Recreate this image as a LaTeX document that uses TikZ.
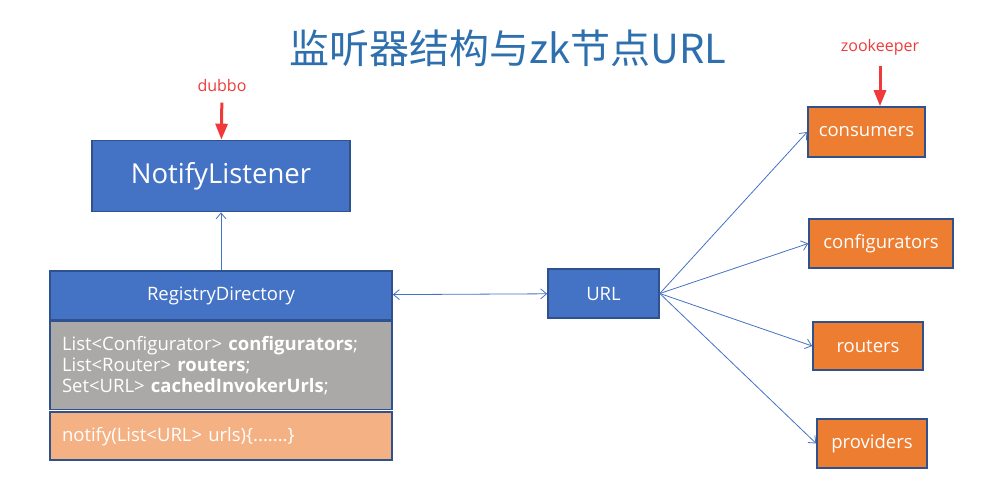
\documentclass[tikz,border=0pt]{standalone}
\usepackage{fontspec}
\setmainfont{Open Sans}
\newfontfamily\cjkfont{Noto Sans CJK SC}
\usepackage{tikz}
\usetikzlibrary{arrows.meta,positioning}

\definecolor{boxblue}{HTML}{4472C4}
\definecolor{edgeblue}{HTML}{2F528F}
\definecolor{titleblue}{HTML}{2E6FAE}
\definecolor{fieldgray}{HTML}{ABA9A8}
\definecolor{lightorange}{HTML}{F4B183}
\definecolor{zkorange}{HTML}{ED7D31}
\definecolor{tagred}{HTML}{F03A3A}

\begin{document}
\begin{tikzpicture}[
    x=1pt, y=-1pt,
    font=\fontsize{18.5}{21}\selectfont,
    node distance=0pt,
    cls/.style={draw=edgeblue, line width=1.6pt, fill=boxblue, text=white, inner sep=0pt},
    fieldbox/.style={draw=edgeblue, line width=1.6pt, fill=fieldgray, text=white, inner xsep=12pt, text width=318pt, align=left, minimum height=88pt, font=\fontsize{18.5}{21}\selectfont},
    methodbox/.style={draw=edgeblue, line width=1.6pt, fill=lightorange, text=white, inner xsep=12pt, text width=318pt, align=left, minimum height=48pt, font=\fontsize{18.5}{21}\selectfont},
    zknode/.style={draw=edgeblue, line width=1.6pt, fill=zkorange, text=white, inner sep=0pt},
    tag/.style={text=tagred, font=\fontsize{16}{18}\selectfont},
    link/.style={-{Straight Barb[length=6pt,width=10pt]}, boxblue, line width=0.8pt},
    redarr/.style={-{Triangle[length=16pt,width=12pt]}, tagred, line width=3pt, shorten <=7pt},
  ]
    \useasboundingbox (0,0) rectangle (988,500);

    \node[text=titleblue, font=\cjkfont\fontsize{40}{44}\selectfont] (title) at (508,48) {监听器结构与zk节点URL};

    \node[cls, minimum width=258pt, minimum height=71pt, font=\fontsize{27.5}{30}\selectfont] (listener) at (221,176) {NotifyListener};
    \node[cls, minimum width=342pt, minimum height=49pt] (registry) at (221,295.5) {RegistryDirectory};
    \node[fieldbox, below=of registry] (fields) {
      List<Configurator> \textbf{configurators};\\
      List<Router> \textbf{routers};\\
      Set<URL> \textbf{cachedInvokerUrls};
    };
    \node[methodbox, below=1pt of fields] (method) {notify(List<URL> urls)\{.......\}};

    \node[cls, minimum width=111pt, minimum height=49pt] (url) at (603.5,293.5) {URL};

    \node[zknode, minimum width=117pt, minimum height=50pt] (consumers) at (866.5,132) {consumers};
    \node[zknode, minimum width=144pt, minimum height=49pt] (configurators) at (881,243.5) {configurators};
    \node[zknode, minimum width=110pt, minimum height=48pt] (routers) at (868,346) {routers};
    \node[zknode, minimum width=110pt, minimum height=49pt] (providers) at (872,443.5) {providers};

    \node[tag] (dubbo) at (222,86) {dubbo};
    \node[tag] (zookeeper) at (880,47) {zookeeper};

    \draw[redarr] (dubbo) -- (listener);
    \draw[redarr] (zookeeper) -- (zookeeper |- consumers.north);

    \draw[link] (registry) -- (listener);
    \draw[link, {Straight Barb[length=6pt,width=10pt]}-{Straight Barb[length=6pt,width=10pt]}] (registry) -- (url);
    \foreach \zk in {consumers,configurators,routers,providers}
      \draw[link] (url.east) -- (\zk.west);
  \end{tikzpicture}
\end{document}
